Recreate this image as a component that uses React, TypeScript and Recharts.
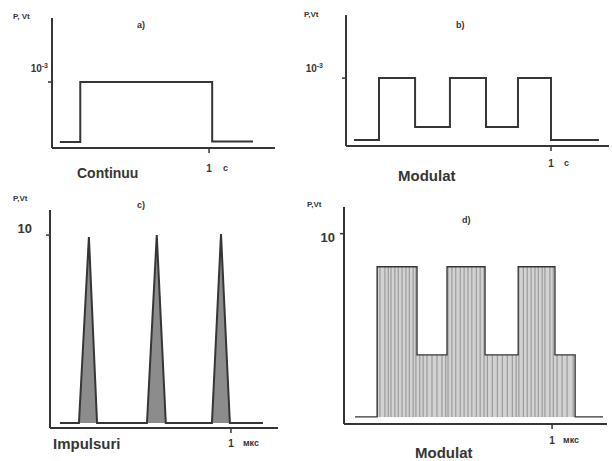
import React from 'react';
import { ComposedChart, Line, Area, Bar, XAxis, YAxis } from 'recharts';

const INK = '#363636';
const FONT = '"Liberation Sans", Arial, sans-serif';

// a) Continuu — time in s, power in W
const aTime = [0.05, 0.18, 1.02, 1.28];
const aPower = [0.00009, 0.001, 0.0001, 0.0001];

// b) Modulat — time in s, power in W
const bTime = [0.039, 0.161, 0.337, 0.507, 0.683, 0.839, 1.0, 1.234];
const bPower = [0.00009, 0.001, 0.00028, 0.001, 0.00028, 0.001, 0.00009, 0.00009];

// c) Impulsuri — time in µs, power in W
const cTime = [0.055, 0.16, 0.215, 0.26, 0.536, 0.59, 0.64, 0.895, 0.945, 0.994, 1.177];
const cPower = [0.26, 0.26, 9.9, 0.26, 0.26, 10, 0.26, 0.26, 10.05, 0.26, 0.26];

// d) Modulat (pulsed) — envelope and individual pulses
const dEnvTime = [0.053, 0.159, 0.351, 0.495, 0.678, 0.837, 1.014, 1.111, 1.245];
const dEnvPower = [0.37, 8.26, 3.63, 8.26, 3.63, 8.26, 3.63, 0.37, 0.37];
const dPulseTime = [
  0.161, 0.173, 0.197, 0.212, 0.226, 0.245, 0.26, 0.279, 0.298, 0.313, 0.332, 0.346,
  0.365, 0.38, 0.399, 0.423, 0.447, 0.471, 0.49,
  0.5, 0.519, 0.538, 0.558, 0.577, 0.596, 0.615, 0.635, 0.654, 0.673,
  0.688, 0.712, 0.736, 0.76, 0.784, 0.808, 0.827,
  0.841, 0.861, 0.88, 0.899, 0.918, 0.933, 0.952, 0.966, 0.99, 1.005,
  1.024, 1.048, 1.072, 1.101,
];
const dPulseTop = [
  8.26, 8.26, 8.26, 8.26, 8.26, 8.26, 8.26, 8.26, 8.26, 8.26, 8.26, 8.26,
  3.63, 3.63, 3.63, 3.63, 3.63, 3.63, 3.63,
  8.26, 8.26, 8.26, 8.26, 8.26, 8.26, 8.26, 8.26, 8.26, 8.26,
  3.63, 3.63, 3.63, 3.63, 3.63, 3.63, 3.63,
  8.26, 8.26, 8.26, 8.26, 8.26, 8.26, 8.26, 8.26, 8.26, 8.26,
  3.63, 3.63, 3.63, 3.63,
];
const dBase = 0.37;

const zip = (ts: number[], ps: number[]) => ts.map((t, i) => ({ t, p: ps[i] }));

const axisLine = { stroke: INK, strokeWidth: 2 };

function XTick(props: any) {
  const { x, y, payload, unit, dy, ux, size } = props;
  return (
    <g>
      <text x={x} y={y + dy} textAnchor="middle" dominantBaseline="central" fontSize={size} fontWeight="bold" fill={INK} fontFamily={FONT}>
        {payload.value}
      </text>
      <text x={x + ux} y={y + dy} textAnchor="start" dominantBaseline="central" fontSize={size - 1} fontWeight="bold" fill={INK} fontFamily={FONT}>
        {unit}
      </text>
    </g>
  );
}

function YTick(props: any) {
  const { x, y, dx, dy, main, sup, size } = props;
  return (
    <text x={x + dx} y={y + dy} textAnchor="end" dominantBaseline="central" fontSize={size} fontWeight="bold" fill={INK} fontFamily={FONT}>
      {main}
      {sup ? (
        <tspan fontSize={size * 0.7} dy={-size * 0.35}>{sup}</tspan>
      ) : null}
    </text>
  );
}

function Label({ x, y, size, children }: { x: number; y: number; size: number; children: React.ReactNode }) {
  return (
    <div
      style={{
        position: 'absolute',
        left: x,
        top: y - size / 2,
        fontSize: size,
        lineHeight: `${size}px`,
        fontWeight: 'bold',
        fontFamily: FONT,
        color: INK,
        whiteSpace: 'nowrap',
      }}
    >
      {children}
    </div>
  );
}

function Place({ left, top, children }: { left: number; top: number; children: React.ReactNode }) {
  return <div style={{ position: 'absolute', left, top }}>{children}</div>;
}

export default function App() {
  return (
    <div style={{ position: 'absolute', left: 0, top: 0, width: 612, height: 461, background: '#fff', overflow: 'hidden' }}>
      {/* a) */}
      <Place left={0} top={0}>
        <ComposedChart width={306} height={195} data={zip(aTime, aPower)} margin={{ top: 18, left: 51, right: 31, bottom: 46 }}>
          <XAxis type="number" dataKey="t" domain={[0, 1.42]} ticks={[1]} height={1} tickSize={5} tickMargin={0}
            axisLine={axisLine} tickLine={{ stroke: INK, strokeWidth: 1.5 }}
            tick={(p: any) => <XTick {...p} unit="c" dy={15} ux={14} size={10} />} />
          <YAxis type="number" domain={[0, 0.00197]} ticks={[0.001]} width={1} tickSize={4} tickMargin={0}
            axisLine={axisLine} tickLine={{ stroke: INK, strokeWidth: 1.5 }}
            tick={(p: any) => <YTick {...p} dx={0} dy={-14} main="10" sup="-3" size={10} />} />
          <Line type="stepAfter" dataKey="p" stroke={INK} strokeWidth={2} dot={false} isAnimationActive={false} />
        </ComposedChart>
      </Place>

      {/* b) */}
      <Place left={306} top={0}>
        <ComposedChart width={306} height={195} data={zip(bTime, bPower)} margin={{ top: 15, left: 39, right: 3, bottom: 48 }}>
          <XAxis type="number" dataKey="t" domain={[0, 1.283]} ticks={[1]} height={1} tickSize={5} tickMargin={0}
            axisLine={axisLine} tickLine={{ stroke: INK, strokeWidth: 1.5 }}
            tick={(p: any) => <XTick {...p} unit="c" dy={12} ux={13} size={10} />} />
          <YAxis type="number" domain={[0, 0.00193]} ticks={[0.001]} width={1} tickSize={4} tickMargin={0}
            axisLine={axisLine} tickLine={{ stroke: INK, strokeWidth: 1.5 }}
            tick={(p: any) => <YTick {...p} dx={-19} dy={-10} main="10" sup="-3" size={10} />} />
          <Line type="stepAfter" dataKey="p" stroke={INK} strokeWidth={2} dot={false} isAnimationActive={false} />
        </ComposedChart>
      </Place>

      {/* c) */}
      <Place left={0} top={195}>
        <ComposedChart width={300} height={266} data={zip(cTime, cPower)} margin={{ top: 15, left: 49, right: 22, bottom: 32 }}>
          <XAxis type="number" dataKey="t" domain={[0, 1.26]} ticks={[1]} height={1} tickSize={5} tickMargin={0}
            axisLine={axisLine} tickLine={{ stroke: INK, strokeWidth: 1.5 }}
            tick={(p: any) => <XTick {...p} unit="мкс" dy={10} ux={12} size={10} />} />
          <YAxis type="number" domain={[0, 11.3]} ticks={[10]} width={1} tickSize={4} tickMargin={0}
            axisLine={axisLine} tickLine={{ stroke: INK, strokeWidth: 1.5 }}
            tick={(p: any) => <YTick {...p} dx={-14} dy={-7} main="10" size={13} />} />
          <Area type="linear" dataKey="p" baseValue={0.26} stroke={INK} strokeWidth={2} fill="#8c8c8c" fillOpacity={1} dot={false} isAnimationActive={false} />
        </ComposedChart>
      </Place>

      {/* d) */}
      <Place left={300} top={195}>
        <ComposedChart width={312} height={266} data={dPulseTime.map((t, i) => ({ t, r: [dBase, dPulseTop[i]] }))} margin={{ top: 12, left: 43, right: 5, bottom: 36 }}>
          <XAxis type="number" dataKey="t" domain={[0, 1.264]} ticks={[1]} height={1} tickSize={5} tickMargin={0}
            axisLine={axisLine} tickLine={{ stroke: INK, strokeWidth: 1.5 }}
            tick={(p: any) => <XTick {...p} unit="мкс" dy={11} ux={11} size={10} />} />
          <YAxis type="number" domain={[0, 11.4]} ticks={[10]} width={1} tickSize={4} tickMargin={0}
            axisLine={axisLine} tickLine={{ stroke: INK, strokeWidth: 1.5 }}
            tick={(p: any) => <YTick {...p} dx={-5} dy={4} main="10" size={13} />} />
          <Area data={zip(dEnvTime, dEnvPower)} type="stepAfter" dataKey="p" baseValue={dBase} stroke={INK} strokeWidth={1.3} fill="#d2d2d2" fillOpacity={1} dot={false} isAnimationActive={false} />
          <Bar dataKey="r" barSize={1.4} fill="#262626" isAnimationActive={false} />
        </ComposedChart>
      </Place>

      {/* texts */}
      <Label x={13} y={17} size={8}>P, Vt</Label>
      <Label x={137} y={25} size={9}>a)</Label>
      <Label x={77} y={173} size={14}>Continuu</Label>

      <Label x={304} y={15} size={8}>P,Vt</Label>
      <Label x={456} y={25} size={9}>b)</Label>
      <Label x={398} y={175} size={15}>Modulat</Label>

      <Label x={13} y={199} size={8}>P,Vt</Label>
      <Label x={137} y={205} size={9}>c)</Label>
      <Label x={53} y={443} size={15}>Impulsuri</Label>

      <Label x={307} y={205} size={8}>P,Vt</Label>
      <Label x={462} y={220} size={9}>d)</Label>
      <Label x={415} y={452} size={15}>Modulat</Label>
    </div>
  );
}
